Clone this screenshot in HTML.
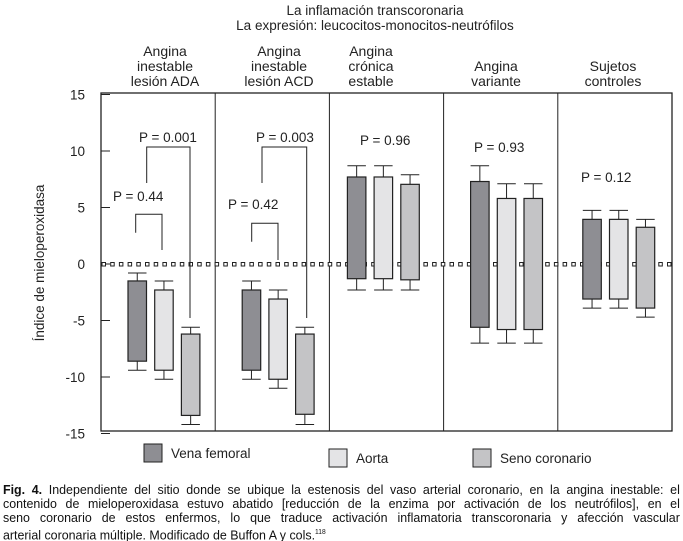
<!DOCTYPE html>
<html><head><meta charset="utf-8">
<style>
body{margin:0;background:#fff;}
svg{display:block;font-family:"Liberation Sans",sans-serif;}
.cap{position:absolute;left:3px;top:483px;width:708px;transform:scaleX(0.956);transform-origin:0 0;font-family:"Liberation Sans",sans-serif;font-size:13px;line-height:14.2px;color:#111}
.cap div{text-align:justify;text-align-last:justify;white-space:nowrap}
.cap div.last{text-align-last:left}
</style></head>
<body>
<div style="position:relative;width:683px;height:541px;overflow:hidden">
<svg id="chart" width="683" height="541">
<g font-size="13.5" fill="#222" text-anchor="middle">
<text x="375" y="15">La inflamación transcoronaria</text>
<text x="375" y="30">La expresión: leucocitos-monocitos-neutrófilos</text>
</g>
<g id="heads" font-size="14" fill="#222" text-anchor="middle"></g>
<g id="grid"></g>
<g id="marks"></g>
<g font-size="13.5" fill="#222">
<rect x="144" y="444" width="18" height="18" fill="#8e8e93" stroke="#222"/>
<text x="171" y="458">Vena femoral</text>
<rect x="329" y="449" width="18" height="18" fill="#e4e4e6" stroke="#222"/>
<text x="356" y="463">Aorta</text>
<rect x="473" y="449" width="18" height="18" fill="#c4c4c6" stroke="#222"/>
<text x="500" y="463">Seno coronario</text>
</g>
</svg>
<div class="cap">
<div><b>Fig. 4.</b> Independiente del sitio donde se ubique la estenosis del vaso arterial coronario, en la angina inestable: el</div>
<div>contenido de mieloperoxidasa estuvo abatido [reducción de la enzima por activación de los neutrófilos], en el</div>
<div>seno coronario de estos enfermos, lo que traduce activación inflamatoria transcoronaria y afección vascular</div>
<div class="last">arterial coronaria múltiple. Modificado de Buffon A y cols.<sup style="font-size:7px">118</sup></div>
</div>
</div>
<script>
const groups=["Angina inestable lesión ADA","Angina inestable lesión ACD","Angina crónica estable","Angina variante","Sujetos controles"];
const series=["Vena femoral","Aorta","Seno coronario"];
const whiskerTop=[[-0.8,-1.5,-5.6],[-1.5,-2.3,-5.6],[8.7,8.7,7.9],[8.7,7.1,7.1],[4.75,4.75,3.95]];
const boxTop=[[-1.5,-2.3,-6.2],[-2.3,-3.1,-6.2],[7.7,7.7,7.05],[7.3,5.8,5.8],[3.95,3.95,3.25]];
const boxBottom=[[-8.6,-9.4,-13.4],[-9.4,-10.2,-13.3],[-1.3,-1.3,-1.4],[-5.6,-5.8,-5.8],[-3.1,-3.1,-3.9]];
const whiskerBottom=[[-9.4,-10.2,-14.2],[-10.2,-11.0,-14.2],[-2.3,-2.3,-2.3],[-7.0,-7.0,-7.0],[-3.9,-3.9,-4.7]];
const pLabels=["P = 0.001","P = 0.003","P = 0.96","P = 0.93","P = 0.12"];
const pSmall=["P = 0.44","P = 0.42"];
const yTicks=[15,10,5,0,-5,-10,-15];
const NS="http://www.w3.org/2000/svg";
const L=101,R=672,T=93,B=431,PW=(R-L)/5;
const colors=["#8e8e93","#e4e4e6","#c4c4c6"];
function y(v){return 264-v*11.3;}
function panelX(i){return L+i*PW;}
function boxX(i,j){return panelX(i)+(i===2?18:(i===4?25:27))+j*26.7;}
function el(t,a,p){const e=document.createElementNS(NS,t);for(const k in a)e.setAttribute(k,a[k]);p.appendChild(e);return e;}
const grid=document.getElementById('grid'),marks=document.getElementById('marks'),heads=document.getElementById('heads');
const fr=el('rect',{x:L,y:T,width:R-L,height:B-T,fill:'none',stroke:'#222','stroke-width':1.3},grid);


for(let i=1;i<5;i++){const d=el('line',{x1:panelX(i),x2:panelX(i),y1:T,y2:B,stroke:'#222','stroke-width':1},grid);

}
yTicks.forEach(v=>{
 const t=el('line',{x1:L,x2:L+9,y1:y(v),y2:y(v),stroke:'#222'},grid);
 
 
 const tx=el('text',{x:85,y:y(v)+5,'text-anchor':'end','font-size':13.5,fill:'#222'},grid);tx.textContent=v;
 
 
});
const yt=el('text',{x:0,y:0,transform:'translate(44,263) rotate(-90)','text-anchor':'middle','font-size':13.5,fill:'#222'},grid);
yt.textContent='Índice de mieloperoxidasa';


for(let x=L+1;x<R-3;x+=8.7){const s=el('rect',{x:x,y:y(0)-1.5,width:3.5,height:3.5,fill:'#fff',stroke:'#222','stroke-width':1},grid);

}
const headX=[165,279,371,496,613];
const headLines=[["Angina","inestable","lesión ADA"],["Angina","inestable","lesión ACD"],["Angina","crónica","estable"],["Angina","variante"],["Sujetos","controles"]];
headLines.forEach((ls,i)=>{ls.forEach((s,k)=>{const t=el('text',{x:headX[i],y:86-(ls.length-1-k)*15},heads);t.textContent=s;

});});
groups.forEach((g,i)=>{series.forEach((s,j)=>{
 const x=boxX(i,j),w=18.5,cx=x+w/2;
 const wl=el('line',{x1:cx,x2:cx,y1:y(whiskerTop[i][j]),y2:y(whiskerBottom[i][j]),stroke:'#222'},marks);
 
 
 [whiskerTop[i][j],whiskerBottom[i][j]].forEach(v=>{const c=el('line',{x1:x,x2:x+w,y1:y(v),y2:y(v),stroke:'#222'},marks);
 
 });
 const r=el('rect',{x:x,y:y(boxTop[i][j]),width:w,height:y(boxBottom[i][j])-y(boxTop[i][j]),fill:colors[j],stroke:'#222','stroke-width':1.2},marks);
 
 
});});
const pX=[139,256,360,474,581],pY=[142,142,145,152,182];
pLabels.forEach((p,i)=>{const t=el('text',{x:pX[i],y:pY[i],'font-size':13.5,fill:'#222'},marks);t.textContent=p;

});
const psX=[113,228],psY=[201,209];
pSmall.forEach((p,i)=>{const t=el('text',{x:psX[i],y:psY[i],'font-size':13.5,fill:'#222'},marks);t.textContent=p;

});
[[135.7,232.7,214.3,162,250],[146.7,183,147,190,318],[251.7,241.7,223.3,278,260],[262,183,147,306.7,318]].forEach(b=>{
 const pl=el('polyline',{points:`${b[0]},${b[1]} ${b[0]},${b[2]} ${b[3]},${b[2]} ${b[3]},${b[4]}`,fill:'none',stroke:'#222'},marks);
 
 
});
</script>
</body></html>
